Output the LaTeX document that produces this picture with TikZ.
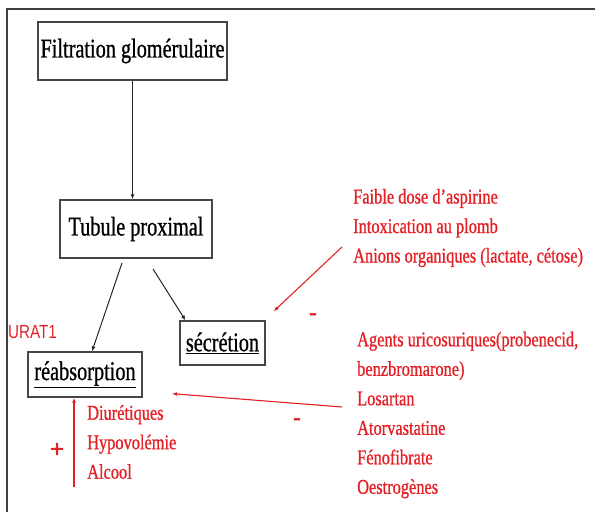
\documentclass[tikz,border=0pt]{standalone}
\usepackage{fontspec}
\setmainfont{Liberation Serif}
\newfontfamily\blkfont{Liberation Serif}[FakeStretch=0.75,FakeBold=0.8]
\newfontfamily\redfont{Liberation Serif}[FakeStretch=0.78,FakeBold=0.8]
\newfontfamily\redsans{Liberation Sans}[FakeStretch=0.8]
\newfontfamily\signfont{Liberation Sans}[FakeBold=1.5]
\usetikzlibrary{arrows.meta}
\definecolor{myred}{RGB}{228,32,38}
\definecolor{boxline}{RGB}{70,70,70}
\tikzset{
  box/.style={draw=boxline, line width=1.3pt, inner sep=0pt, font=\blkfont\fontsize{27}{30}\selectfont, text=black},
  blkarrow/.style={draw=black!85, line width=1pt, -{Latex[length=5pt,width=4pt]}},
  redarrow/.style={draw=myred, line width=1.1pt, -{Latex[length=5pt,width=4pt]}},
  redtext/.style={text=myred, inner sep=0pt, align=left, font=\redfont\fontsize{21}{29.5}\selectfont},
  sign/.style={text=myred, inner sep=0pt, font=\signfont\fontsize{24}{26}\selectfont}
}
\begin{document}
\begin{tikzpicture}[x=1pt,y=-1pt]
\useasboundingbox (0,0) rectangle (595,512);
% frame
\draw[draw=black!75, line width=1.5pt] (7,512) -- (7,9) -- (595,9);
% boxes
\node[box, minimum width=189pt, minimum height=58pt] (filt) at (132.5,51) {Filtration glomérulaire};
\node[box, minimum width=152pt, minimum height=58pt] (tub) at (136,229) {Tubule proximal};
\node[box, minimum width=114pt, minimum height=45pt] (reab) at (85,374.5) {\underline{réabsorption}};
\node[box, minimum width=85pt, minimum height=44pt] (secr) at (222.5,343) {\underline{sécrétion}};
% black arrows
\draw[blkarrow] (filt.south) -- (tub.north -| filt.south);
\coordinate (t1) at (122,263);
\coordinate (t2) at (153,269);
\draw[blkarrow] (t1) -- ([xshift=7pt]reab.north);
\draw[blkarrow] (t2) -- ([xshift=-37pt]secr.north);
% red texts
\node[text=myred, inner sep=0pt, anchor=west, font=\redsans\fontsize{19}{21}\selectfont] (urat) at (8,332) {URAT1};
\node[redtext, anchor=west] (b1) at (353,228) {Faible dose d’aspirine\\Intoxication au plomb\\Anions organiques (lactate, cétose)};
\node[redtext, anchor=west] (b2) at (357,415) {Agents uricosuriques(probenecid,\\benzbromarone)\\Losartan\\Atorvastatine\\Fénofibrate\\Oestrogènes};
\node[redtext, anchor=west] (b3) at (87,442) {Diurétiques\\Hypovolémie\\Alcool};
% signs
\node[sign] (plus) at (57,450) {+};
\node[sign] (m1) at (313,317) {-};
\node[sign] (m2) at (297,422) {-};
% red arrows
\coordinate (r1) at (342,247);
\coordinate (r2) at (342,407);
\coordinate (r3) at (74,487);
\draw[redarrow] (r1) -- ([xshift=8pt,yshift=9pt]secr.north east);
\draw[redarrow] (r2) -- ([xshift=87pt,yshift=4pt]reab.south);
\draw[redarrow] (r3) -- (reab.south -| r3);
\end{tikzpicture}
\end{document}
